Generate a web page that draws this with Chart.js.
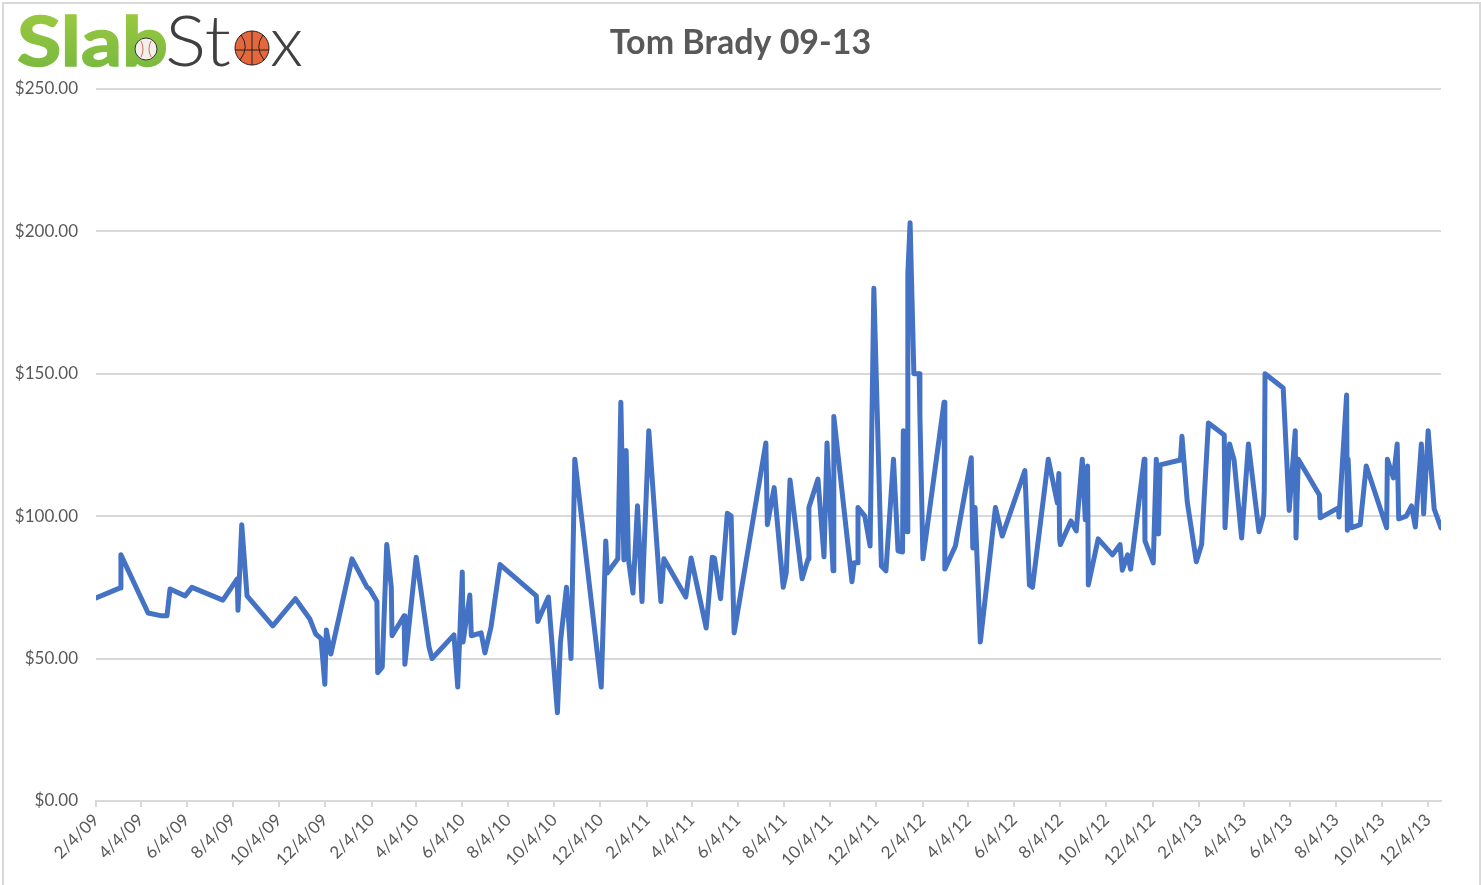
<!DOCTYPE html>
<html>
<head>
<meta charset="utf-8">
<title>Tom Brady 09-13</title>
<script src="https://cdn.jsdelivr.net/npm/chart.js@4/dist/chart.umd.min.js"></script>
<style>
  html, body { margin: 0; padding: 0; background: #fff; overflow: hidden; }
  #frame { position: relative; width: 1481px; height: 885px; }
  #frame::after {
    content: ''; position: absolute; left: 2px; top: 2px; right: 0; bottom: -4px;
    border: 2px solid #d9d9d9; pointer-events: none;
  }
  #logo { position: absolute; left: 0; top: 0; }
</style>
</head>
<body>
<div id="frame">
  <canvas id="graf"></canvas>
  <svg id="logo" width="320" height="80" xmlns="http://www.w3.org/2000/svg">
    <defs>
      <linearGradient id="green" x1="0" y1="0" x2="0" y2="1">
        <stop offset="0" stop-color="#a2cc3f"/>
        <stop offset="1" stop-color="#73b73f"/>
      </linearGradient>
    </defs>
    <text x="17" y="66" font-family="Lato" font-weight="700" font-size="68" fill="url(#green)" stroke="url(#green)" stroke-width="1.5" textLength="151" lengthAdjust="spacingAndGlyphs">Slab</text>
    <text x="165" y="66" font-family="Lato" font-weight="300" font-size="70" fill="#404040" textLength="66" lengthAdjust="spacingAndGlyphs">St</text>
    <text x="270" y="66" font-family="Lato" font-weight="300" font-size="70" fill="#404040" textLength="33" lengthAdjust="spacingAndGlyphs">x</text>
    <circle cx="146" cy="49" r="11" fill="#f2f0ea" stroke="#333" stroke-width="1"/>
    <path d="M141 41 Q145 49 141 57 M151 41 Q147 49 151 57" fill="none" stroke="#d8675f" stroke-width="1"/>
    <circle cx="252" cy="48" r="17" fill="#e4683c" stroke="#222" stroke-width="1"/>
    <path d="M252 31 V65 M235 50 H269 M241 35 Q250 47 240 60 M263 35 Q254 47 264 60" fill="none" stroke="#222" stroke-width="1"/>
  </svg>
</div>
<script>
// days since 2/4/09
const saleDays = [
  0, 32, 33, 69, 87, 94, 98, 118, 127, 168,
  187, 188, 193, 200, 234, 264, 283, 291, 298, 303,
  305, 311, 339, 359, 362, 372, 373, 379, 385, 391,
  392, 408, 409, 424, 441, 445, 474, 479, 485, 486,
  495, 497, 510, 515, 523, 535, 583, 585, 599, 611,
  615, 623, 629, 634, 669, 675, 677, 691, 695, 699,
  702, 705, 711, 717, 723, 732, 748, 752, 781, 788,
  808, 816, 819, 827, 836, 841, 845, 887, 889, 898,
  910, 914, 919, 935, 943, 944, 956, 964, 968, 976,
  977, 1001, 1004, 1008, 1009, 1018, 1025, 1030, 1040, 1046,
  1056, 1062, 1068, 1069, 1074, 1075, 1078, 1083, 1090, 1091,
  1095, 1123, 1124, 1138, 1159, 1161, 1164, 1171, 1191, 1200,
  1230, 1236, 1240, 1261, 1273, 1275, 1276, 1277, 1291, 1298,
  1306, 1310, 1313, 1314, 1327, 1346, 1356, 1359, 1366, 1370,
  1388, 1389, 1400, 1404, 1407, 1409, 1436, 1438, 1445, 1457,
  1464, 1473, 1494, 1495, 1501, 1507, 1517, 1526, 1540, 1546,
  1547, 1548, 1572, 1580, 1588, 1589, 1592, 1620, 1621, 1645,
  1646, 1656, 1657, 1658, 1662, 1674, 1682, 1709, 1710, 1718,
  1723, 1725, 1735, 1742, 1747, 1755, 1758, 1764, 1772, 1781,
];

const salePrices = [
  71.3, 74.8, 86.4, 66, 65, 65, 74.4, 72, 75, 70.5,
  78, 67, 97, 72, 61.5, 71, 64, 58.6, 57, 41,
  60, 51.6, 85, 75, 74.5, 70, 45, 47, 90, 75,
  58, 65, 48, 85.6, 54, 50, 58.3, 40, 80.4, 55.8,
  72.3, 58, 59, 52, 61, 83, 72, 63, 71.6, 31,
  55.8, 75, 50, 120, 40, 91.3, 80, 85, 140, 84.6,
  123, 85, 73, 103.6, 70, 130, 70, 85, 71.6, 85.3,
  60.7, 85.6, 85.2, 71, 101, 100, 59, 125.7, 97, 110,
  75, 80, 112.7, 78, 85, 103, 113, 85.7, 125.7, 80.8,
  135, 77, 83.6, 83.6, 103, 100, 89.5, 180, 82.5, 80.8,
  120, 87.8, 87.4, 130, 94.5, 185, 203, 150, 150, 135,
  85, 140, 81.4, 89.5, 120.5, 88.8, 103, 55.8, 103, 93,
  116, 75.8, 75, 120, 104.6, 115, 92, 90, 98.3, 94.8,
  120, 98.7, 117.6, 75.8, 92, 86.4, 90, 81, 86.4, 81.4,
  120, 91.3, 83.6, 120, 93.7, 118, 119.7, 128, 105, 84,
  90, 132.7, 128.5, 95.9, 125.3, 119.7, 92.3, 125.3, 94.5, 100.4,
  109, 150, 145, 102, 130, 92.3, 120, 107.4, 99.4, 102.9,
  99.7, 142.5, 95, 120, 95.9, 97, 117.6, 95.9, 120, 113.4,
  125.3, 99, 100, 103.6, 96.2, 125.3, 100.8, 130, 102.5, 95.9,
];

const tickDays = [
  0, 59, 120, 181, 242, 303, 365, 424, 485, 546,
  607, 668, 730, 789, 850, 911, 972, 1033, 1095, 1155,
  1216, 1277, 1338, 1399, 1461, 1520, 1581, 1642, 1703, 1764,
];

const tickLabels = [
  '2/4/09', '4/4/09', '6/4/09', '8/4/09', '10/4/09', '12/4/09',
  '2/4/10', '4/4/10', '6/4/10', '8/4/10', '10/4/10', '12/4/10',
  '2/4/11', '4/4/11', '6/4/11', '8/4/11', '10/4/11', '12/4/11',
  '2/4/12', '4/4/12', '6/4/12', '8/4/12', '10/4/12', '12/4/12',
  '2/4/13', '4/4/13', '6/4/13', '8/4/13', '10/4/13', '12/4/13',
];

const lastDay = 1781;
const gridColor = '#d9d9d9';
const textColor = '#595959';
const tickFont = { family: 'Lato', size: 17 };

const ctx = document.getElementById('graf').getContext('2d');

// the right padding would pull the title off centre, so give it the full width back
const titleCenter = {
  id: 'titleCenter',
  afterLayout: (chart) => {
    chart.titleBlock.right = chart.width;
  },
};

const config = {
  type: 'line',
  data: {
    datasets: [
      {
        label: 'Tom Brady 09-13',
        data: saleDays.map((d, i) => ({ x: d, y: salePrices[i] })),
        borderColor: '#4472c4',
        borderWidth: 5,
        borderJoinStyle: 'round',
        borderCapStyle: 'round',
        pointRadius: 0,
        tension: 0,
        fill: false,
      },
    ],
  },
  plugins: [titleCenter],
  options: {
    responsive: true,
    maintainAspectRatio: false,
    animation: false,
    layout: { padding: { left: 0, right: 40, top: 0, bottom: 0 } },
    plugins: {
      legend: { display: false },
      tooltip: { enabled: false },
      title: {
        display: true,
        text: 'Tom Brady 09-13',
        color: '#595959',
        font: { family: 'Lato', size: 34, weight: 'bold', lineHeight: 1.2 },
        padding: { top: 23, bottom: 25 },
      },
    },
    scales: {
      x: {
        type: 'linear',
        min: 0,
        max: lastDay,
        afterBuildTicks: (scale) => {
          scale.ticks = tickDays.map((d) => ({ value: d }));
        },
        afterFit: (scale) => {
          scale.height = 84;
        },
        grid: { drawOnChartArea: false, drawTicks: true, tickLength: 6, color: gridColor, lineWidth: 2 },
        border: { color: gridColor, width: 2 },
        ticks: {
          autoSkip: false,
          maxRotation: 45,
          minRotation: 45,
          color: textColor,
          font: tickFont,
          padding: 3,
          callback: (value) => tickLabels[tickDays.indexOf(value)],
        },
      },
      y: {
        min: 0,
        max: 250,
        afterFit: (scale) => {
          scale.width = 96;
        },
        grid: { color: gridColor, lineWidth: 2, tickLength: 0 },
        border: { display: false },
        ticks: {
          stepSize: 50,
          color: textColor,
          font: tickFont,
          padding: 18,
          callback: (value) => '$' + value.toFixed(2),
        },
      },
    },
  },
};

const myChart = new Chart(ctx, config);
</script>
</body>
</html>
